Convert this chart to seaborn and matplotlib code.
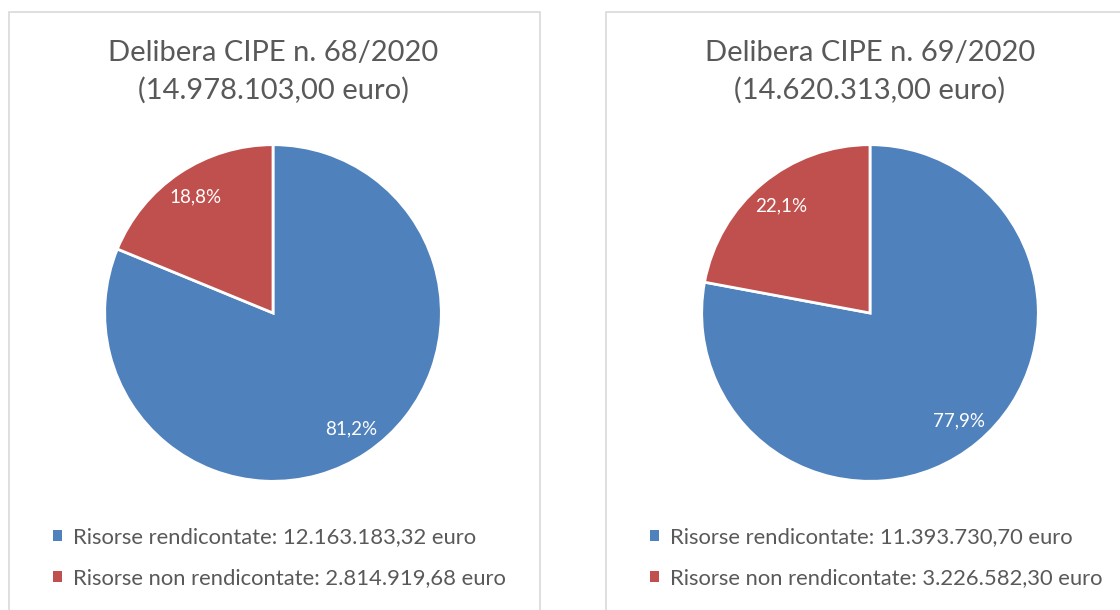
import matplotlib.pyplot as plt
import matplotlib.patches as mpatches
import seaborn as sns

# data
titles = ['Delibera CIPE n. 68/2020\n(14.978.103,00 euro)',
          'Delibera CIPE n. 69/2020\n(14.620.313,00 euro)']
categories = ['Risorse rendicontate', 'Risorse non rendicontate']
resources_68 = [12163183.32, 2814919.68]
resources_69 = [11393730.70, 3226582.30]

colors = ['#4F81BD', '#C0504D']
text_gray = '#595959'

sns.set_theme(style='white')
plt.rcParams['font.family'] = ['Lato', 'DejaVu Sans']


def euro(v):
    s = f'{v:,.2f}'
    return s.replace(',', 'X').replace('.', ',').replace('X', '.')


def pct(p):
    return f'{p:.1f}%'.replace('.', ',')


fig = plt.figure(figsize=(11.2, 6.1), dpi=100)
W, H = 1120, 610

# light grey panel frames
for x0, x1 in [(9, 540), (606, 1125)]:
    fig.patches.append(mpatches.Rectangle((x0 / W, -0.05), (x1 - x0) / W, 1.05 - 12 / H,
                                          transform=fig.transFigure, fill=False,
                                          edgecolor='#D9D9D9', linewidth=1.2))

panels = [(resources_68, titles[0], 273, 53), (resources_69, titles[1], 870, 650)]
r = 170
cy = 313
for values, title, cx, leg_x in panels:
    ax = fig.add_axes([(cx - r) / W, 1 - (cy + r) / H, 2 * r / W, 2 * r / H])
    wedges, _, autotexts = ax.pie(values, colors=colors, startangle=90, counterclock=False,
                                  autopct=pct, pctdistance=0.83,
                                  wedgeprops=dict(edgecolor='white', linewidth=2))
    for t in autotexts:
        t.set_color('white')
        t.set_fontsize(13.5)
    ax.set_xlim(-1.01, 1.01)
    ax.set_ylim(-1.01, 1.01)
    ax.set_aspect('equal')

    fig.text(cx / W, 1 - 72 / H, title, ha='center', va='center',
             fontsize=21, color=text_gray, linespacing=1.5)

    handles = [mpatches.Rectangle((0, 0), 1, 1, facecolor=c, edgecolor='none') for c in colors]
    labels = [f'{c}: {euro(v)} euro' for c, v in zip(categories, values)]
    leg = ax.legend(handles, labels, loc='center left',
                    bbox_to_anchor=(leg_x / W, 1 - 558 / H), bbox_transform=fig.transFigure,
                    frameon=False, fontsize=15.8, handlelength=0.4, handleheight=0.4,
                    handletextpad=0.5, labelspacing=0.95, borderpad=0, borderaxespad=0)
    for t in leg.get_texts():
        t.set_color(text_gray)

fig.savefig('out.png', dpi=100, facecolor='white')
